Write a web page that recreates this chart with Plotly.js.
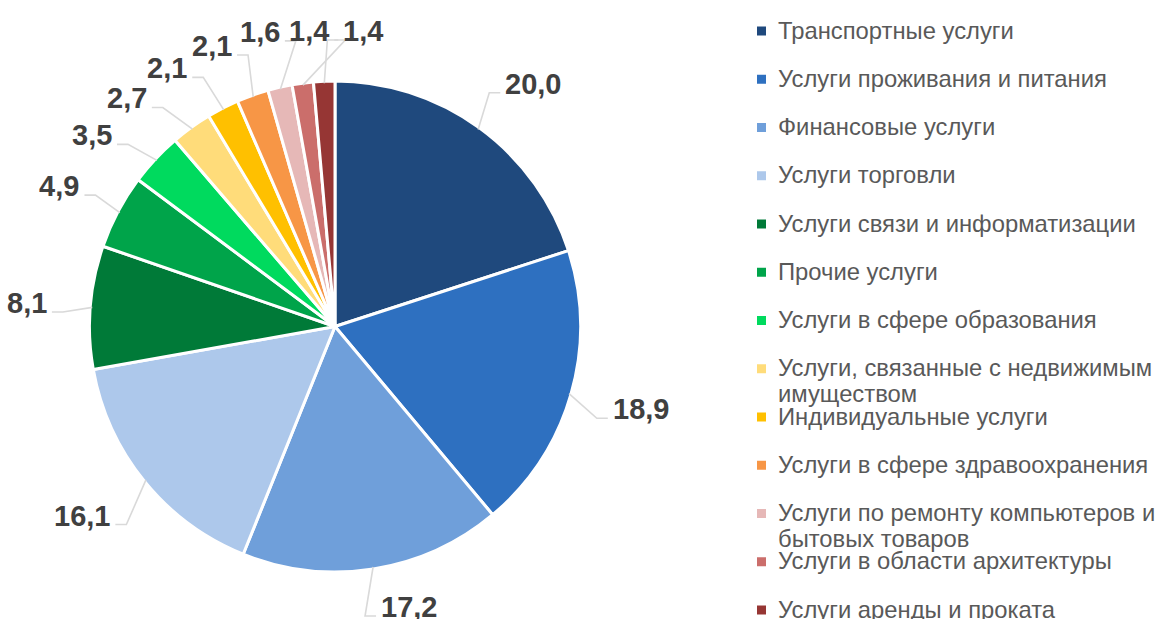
<!DOCTYPE html>
<html>
<head>
<meta charset="utf-8">
<script src="https://cdn.plot.ly/plotly-3.0.1.min.js"></script>
<style>
  html, body { margin: 0; padding: 0; background: #ffffff; }
  #chart { width: 1158px; height: 619px; }
</style>
</head>
<body>
<div id="chart"></div>
<script>
// ---------- DATA ----------
const categories = [
  "Транспортные услуги",
  "Услуги проживания и питания",
  "Финансовые услуги",
  "Услуги торговли",
  "Услуги связи и информатизации",
  "Прочие услуги",
  "Услуги в сфере образования",
  "Услуги, связанные с недвижимым имуществом",
  "Индивидуальные услуги",
  "Услуги в сфере здравоохранения",
  "Услуги по ремонту компьютеров и бытовых товаров",
  "Услуги в области архитектуры",
  "Услуги аренды и проката"
];
const values = [20.0, 18.9, 17.2, 16.1, 8.1, 4.9, 3.5, 2.7, 2.1, 2.1, 1.6, 1.4, 1.4];
const sliceColors = [
  "#1F497D", "#2E70C0", "#6F9FDA", "#ADC8EB", "#007A38", "#00A44A", "#00DA5E",
  "#FFDC7A", "#FFC000", "#F79646", "#E6B8B7", "#CB6E6B", "#963634"
];

// ---------- GEOMETRY (layout) ----------
const W = 1158, H = 619;
const CX = 335, CY = 326.5, R = 245.5;
const px = x => x / W;
const py = y => 1 - y / H;

const FONT = 'Arial, "Liberation Sans", sans-serif';
const LABEL_FONT = 29;
const LEGEND_FONT = 23.8;
const fmt = v => v.toFixed(1).replace('.', ',');
const rad = a => a * Math.PI / 180;

// angles (clockwise from 12 o'clock), derived from the values
const total = values.reduce((a, b) => a + b, 0);
let cum = 0;
const midAngles = values.map(v => { const m = (cum + v / 2) / total * 360; cum += v; return m; });
// which side of its leader line each label sits on (1 = right, -1 = left)
const sides = midAngles.map(m => Math.sin(rad(m + 5)) >= 0 ? 1 : -1);

// spread label angles so neighbours don't collide
const labAngles = midAngles.slice();
for (let it = 0; it < 400; it++) {
  for (let i = 1; i < labAngles.length; i++) {
    const minSep = sides[i] === sides[i - 1] ? 9.9 : 2.4;
    const d = labAngles[i] - labAngles[i - 1];
    if (d < minSep) {
      const s = (minSep - d) / 2;
      labAngles[i - 1] -= s; labAngles[i] += s;
    }
  }
}

const annotations = [];
const shapes = [];
const RX = 288, RY = 300;   // ellipse on which each label's near edge sits

values.forEach((v, i) => {
  const txt = fmt(v);
  const a = labAngles[i];
  const side = sides[i];
  let ax = CX + RX * Math.sin(rad(a));
  let ay = CY - RY * Math.cos(rad(a));
  ay = Math.max(31, Math.min(H - 12, ay));
  // leader line: slice edge -> elbow -> short horizontal to the label
  const m = midAngles[i];
  const ex = CX + (R - 2) * Math.sin(rad(m));
  const ey = CY - (R - 2) * Math.cos(rad(m));
  const qx = ax - side * 4;
  const qy = ay + 9;
  const bx = qx - side * 11;
  shapes.push({
    type: 'path', xref: 'paper', yref: 'paper',
    path: `M ${px(ex)} ${py(ey)} L ${px(bx)} ${py(qy)} L ${px(qx)} ${py(qy)}`,
    line: { color: '#D9D9D9', width: 1.6 }
  });
  annotations.push({
    xref: 'paper', yref: 'paper', x: px(ax), y: py(ay),
    xanchor: side > 0 ? 'left' : 'right', yanchor: 'middle', showarrow: false,
    text: '<b>' + txt + '</b>', borderpad: 0,
    font: { family: FONT, size: LABEL_FONT, color: '#404040' }
  });
});

// ---------- legend (drawn as text + swatches) ----------
function wrap(s, maxc) {
  const words = s.split(' ');
  const lines = []; let cur = '';
  words.forEach(wd => {
    if (cur && (cur + ' ' + wd).length > maxc) { lines.push(cur); cur = wd; }
    else cur = cur ? cur + ' ' + wd : wd;
  });
  if (cur) lines.push(cur);
  return lines;
}
const LEG_X_SQ = 757, LEG_X_TXT = 777, LEG_Y0 = 30, LEG_STEP = 48.25, SQ = 9, LEG_LINE = 26;
categories.forEach((c, i) => {
  const yc = LEG_Y0 + i * LEG_STEP;
  const lines = wrap(c, 31);
  shapes.push({
    type: 'rect', xref: 'paper', yref: 'paper',
    x0: px(LEG_X_SQ), x1: px(LEG_X_SQ + SQ), y0: py(yc - SQ / 2 + 1), y1: py(yc + SQ / 2 + 1),
    fillcolor: sliceColors[i], line: { width: 0 }
  });
  lines.forEach((ln, k) => {
    annotations.push({
      xref: 'paper', yref: 'paper', x: px(LEG_X_TXT), y: py(yc + k * LEG_LINE),
      xanchor: 'left', yanchor: 'middle', align: 'left', showarrow: false, borderpad: 0,
      text: ln,
      font: { family: FONT, size: LEGEND_FONT, color: '#595959' }
    });
  });
});

const trace = {
  type: 'pie',
  labels: categories,
  values: values,
  sort: false,
  direction: 'clockwise',
  rotation: 0,
  textinfo: 'none',
  hoverinfo: 'label+value',
  marker: { colors: sliceColors, line: { color: '#FFFFFF', width: 3 } },
  domain: { x: [px(CX - R), px(CX + R)], y: [py(CY + R), py(CY - R)] },
  showlegend: false
};

const layout = {
  width: W, height: H,
  margin: { l: 0, r: 0, t: 0, b: 0 },
  paper_bgcolor: '#FFFFFF',
  showlegend: false,
  annotations: annotations,
  shapes: shapes,
  font: { family: FONT }
};

Plotly.newPlot('chart', [trace], layout, { displayModeBar: false, staticPlot: true });
</script>
</body>
</html>
